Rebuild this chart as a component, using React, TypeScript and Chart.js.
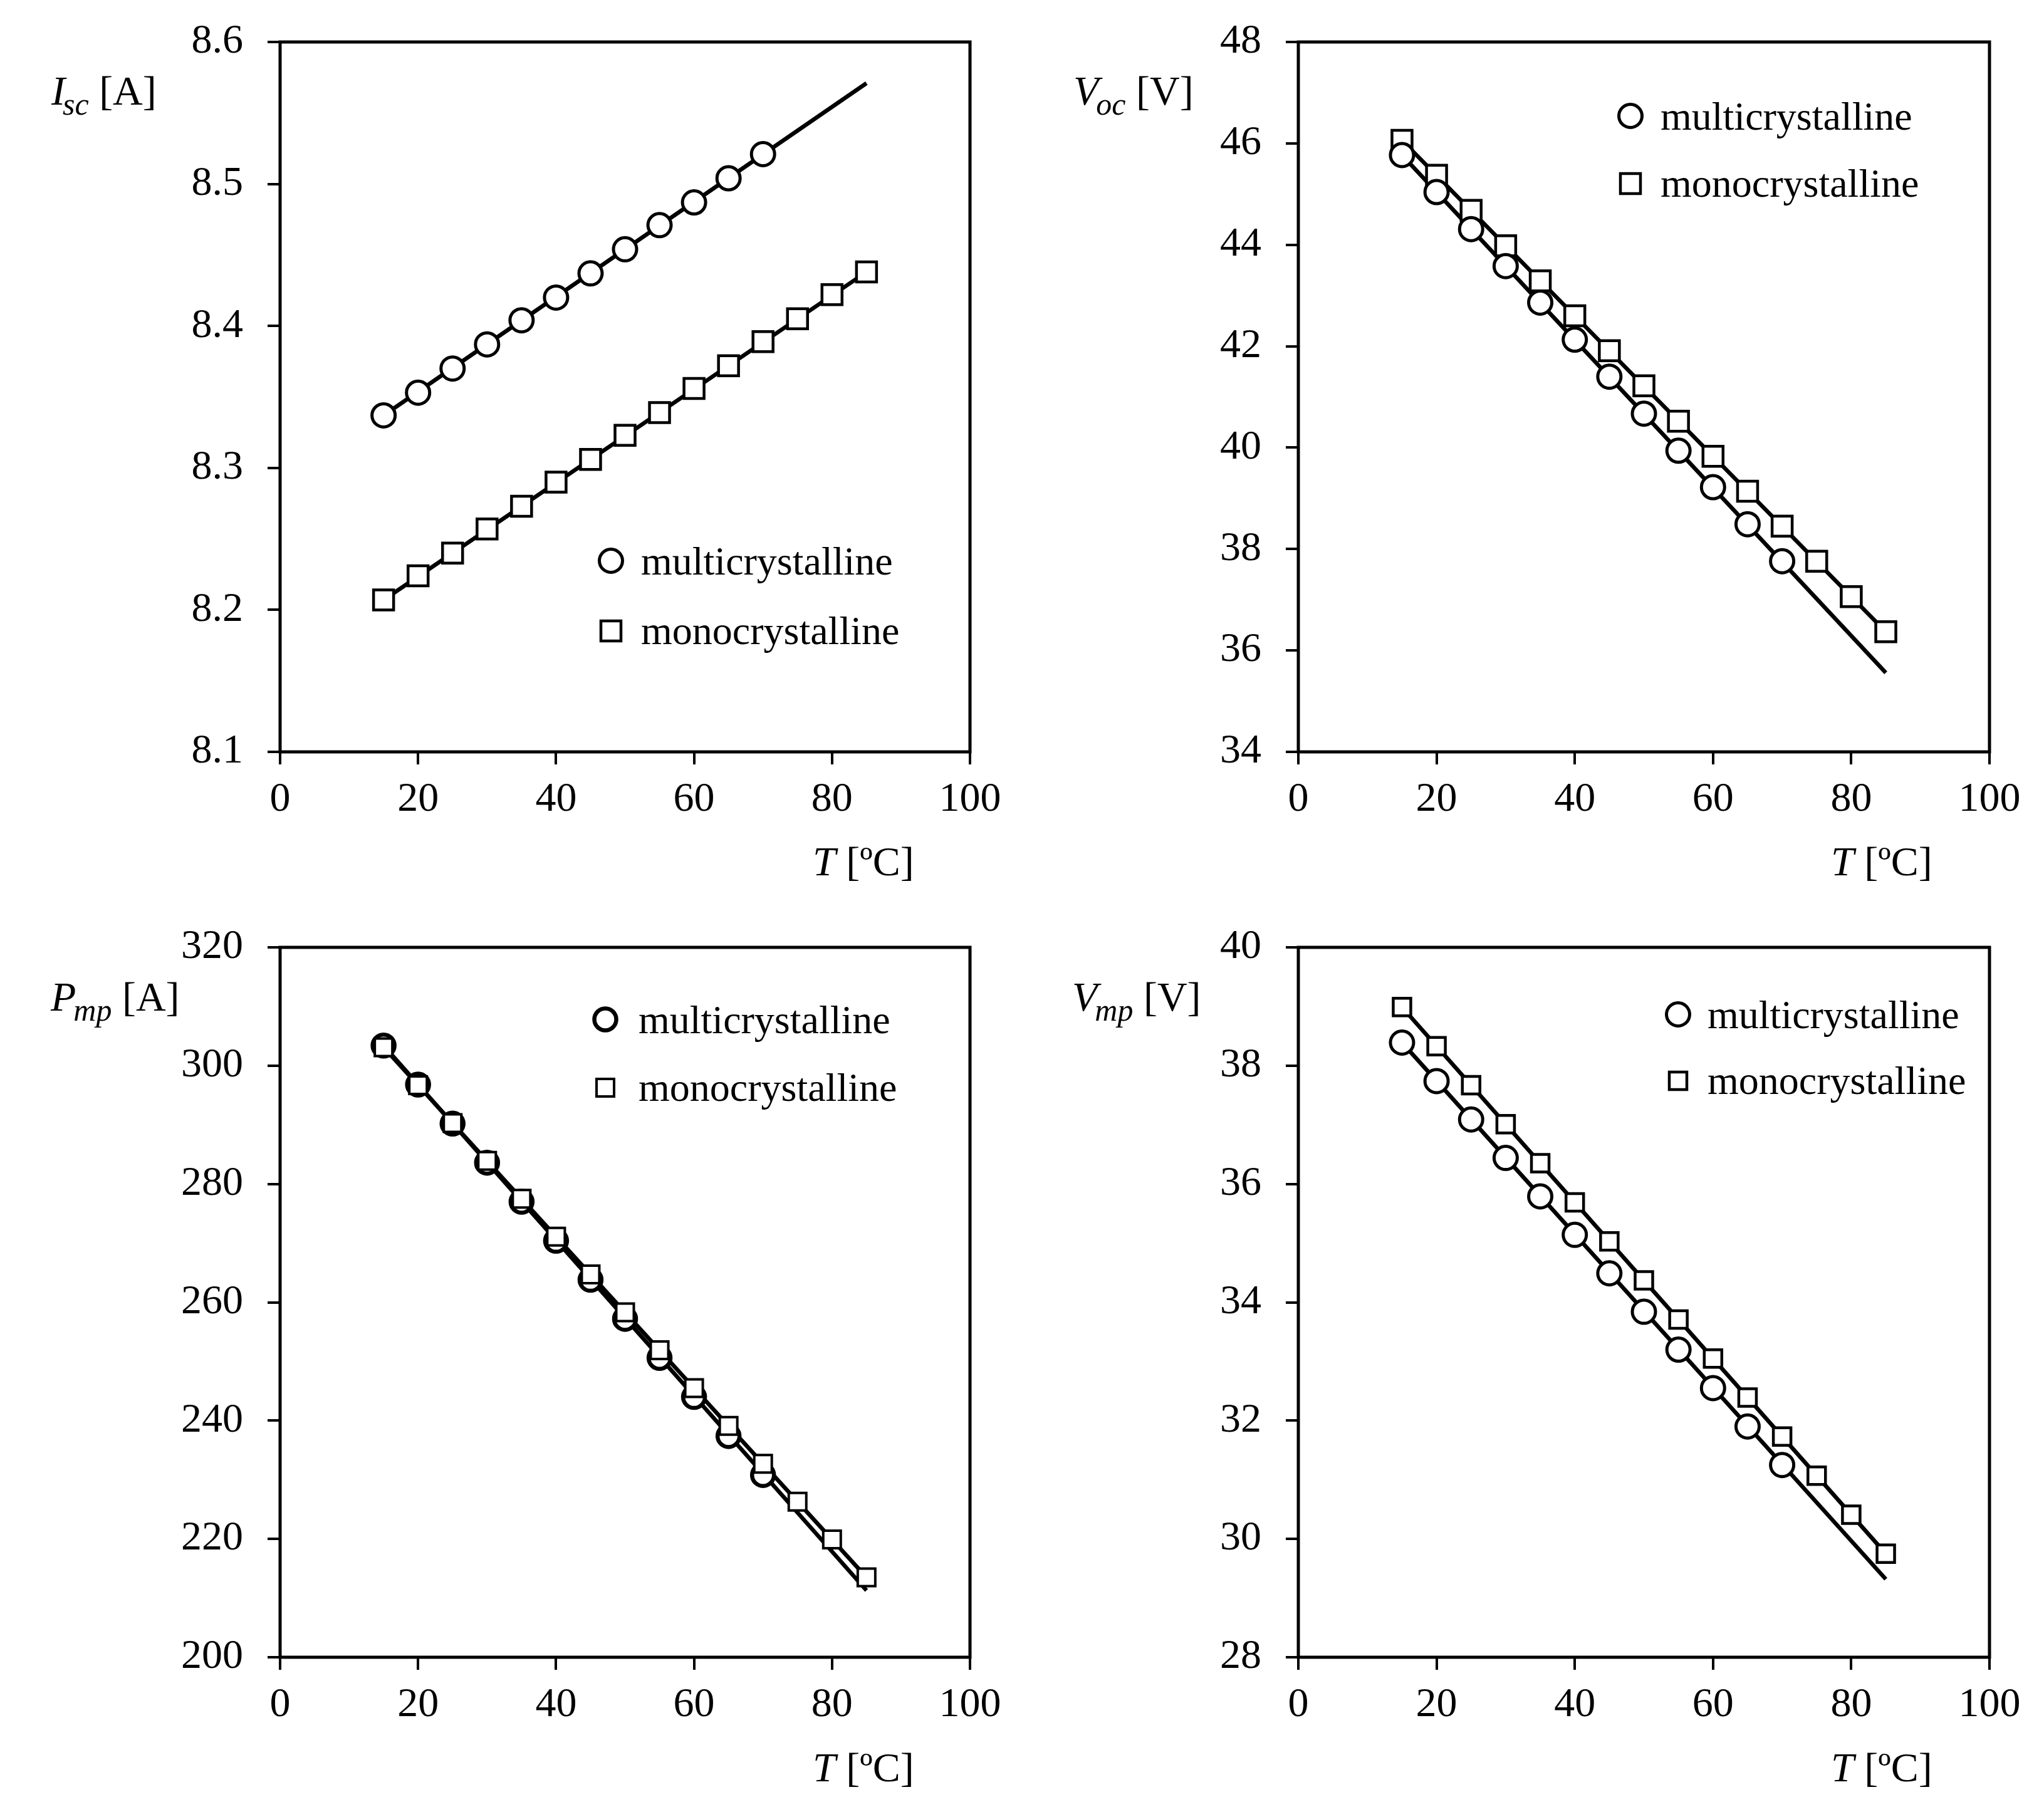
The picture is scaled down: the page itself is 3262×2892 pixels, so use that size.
import React, { useEffect, useRef } from "react";
import { Chart, registerables } from "chart.js";

Chart.register(...registerables);

const FONT = "'Liberation Serif', 'Times New Roman', serif";

// ---------- data ----------
const tempsMulti = [15, 20, 25, 30, 35, 40, 45, 50, 55, 60, 65, 70];
const tempsMono = [15, 20, 25, 30, 35, 40, 45, 50, 55, 60, 65, 70, 75, 80, 85];
const fitTemps = [15, 85];
const xTicks = [0, 20, 40, 60, 80, 100];
const legendLabels = ["multicrystalline", "monocrystalline"];

// Isc [A]
const iscTicks = [8.1, 8.2, 8.3, 8.4, 8.5, 8.6];
const iscMulti = [8.337, 8.353, 8.37, 8.387, 8.404, 8.42, 8.437, 8.454, 8.471, 8.487, 8.504, 8.521];
const iscMono = [8.207, 8.224, 8.24, 8.257, 8.273, 8.29, 8.306, 8.323, 8.339, 8.356, 8.372, 8.389, 8.405, 8.422, 8.438];
const iscMultiFit = [8.337, 8.571];
const iscMonoFit = [8.207, 8.438];

// Voc [V]
const vocTicks = [34, 36, 38, 40, 42, 44, 46, 48];
const vocMulti = [45.77, 45.04, 44.31, 43.58, 42.86, 42.13, 41.4, 40.67, 39.94, 39.22, 38.49, 37.76];
const vocMono = [46.06, 45.37, 44.68, 43.98, 43.29, 42.6, 41.91, 41.22, 40.52, 39.83, 39.14, 38.45, 37.76, 37.06, 36.37];
const vocMultiFit = [45.77, 35.56];
const vocMonoFit = [46.06, 36.37];

// Pmp
const pmpTicks = [200, 220, 240, 260, 280, 300, 320];
const pmpMulti = [303.4, 296.8, 290.2, 283.6, 277.0, 270.4, 263.8, 257.2, 250.6, 244.0, 237.4, 230.8];
const pmpMono = [303.1, 296.7, 290.3, 283.9, 277.5, 271.1, 264.7, 258.3, 251.9, 245.5, 239.1, 232.7, 226.3, 219.9, 213.5];
const pmpMultiFit = [303.4, 211.3];
const pmpMonoFit = [303.1, 213.5];

// Vmp [V]
const vmpTicks = [28, 30, 32, 34, 36, 38, 40];
const vmpMulti = [38.39, 37.74, 37.09, 36.44, 35.79, 35.14, 34.49, 33.84, 33.2, 32.55, 31.9, 31.25];
const vmpMono = [38.99, 38.33, 37.67, 37.01, 36.35, 35.69, 35.03, 34.37, 33.71, 33.05, 32.39, 31.73, 31.07, 30.41, 29.75];
const vmpMultiFit = [38.39, 29.32];
const vmpMonoFit = [38.99, 29.75];

// ---------- layout ----------
const W = 1631;
const H = 1446;
const FS = 64;
const TICK_FS = 66;

type Panel = {
  left: number; top: number; plotLeft: number; plotTop: number; plotRight: number; plotBottom: number;
  yTicks: number[]; decimals: number;
  multi: number[]; mono: number[]; multiFit: number[]; monoFit: number[];
  title: [string, string, string];
  titleX: number; tX: number;
  legX: number; legY1: number; legY2: number; legTextX: number;
  circR: number; circW: number; rectHalf: number; rectW: number;
  multiOnTop: boolean;
};

const panels: Panel[] = [
  {
    left: 0, top: 0, plotLeft: 447, plotTop: 67, plotRight: 1548, plotBottom: 1200,
    yTicks: iscTicks, decimals: 1, multi: iscMulti, mono: iscMono, multiFit: iscMultiFit, monoFit: iscMonoFit,
    title: ["I", "sc", " [A]"], titleX: 82, tX: 1297,
    legX: 975, legY1: 895, legY2: 1007, legTextX: 1023,
    circR: 18.5, circW: 5, rectHalf: 16, rectW: 4.5, multiOnTop: true,
  },
  {
    left: W, top: 0, plotLeft: 441, plotTop: 67, plotRight: 1544, plotBottom: 1200,
    yTicks: vocTicks, decimals: 0, multi: vocMulti, mono: vocMono, multiFit: vocMultiFit, monoFit: vocMonoFit,
    title: ["V", "oc", " [V]"], titleX: 82, tX: 1291,
    legX: 971, legY1: 185, legY2: 293, legTextX: 1019,
    circR: 18.5, circW: 5, rectHalf: 16, rectW: 4.5, multiOnTop: true,
  },
  {
    left: 0, top: H, plotLeft: 447, plotTop: 66, plotRight: 1548, plotBottom: 1199,
    yTicks: pmpTicks, decimals: 0, multi: pmpMulti, mono: pmpMono, multiFit: pmpMultiFit, monoFit: pmpMonoFit,
    title: ["P", "mp", " [A]"], titleX: 81, tX: 1297,
    legX: 966, legY1: 181, legY2: 290, legTextX: 1019,
    circR: 17.5, circW: 6.5, rectHalf: 14, rectW: 4, multiOnTop: false,
  },
  {
    left: W, top: H, plotLeft: 441, plotTop: 66, plotRight: 1544, plotBottom: 1199,
    yTicks: vmpTicks, decimals: 0, multi: vmpMulti, mono: vmpMono, multiFit: vmpMultiFit, monoFit: vmpMonoFit,
    title: ["V", "mp", " [V]"], titleX: 80, tX: 1291,
    legX: 1047, legY1: 173, legY2: 279, legTextX: 1094,
    circR: 18.5, circW: 5, rectHalf: 14, rectW: 4.5, multiOnTop: true,
  },
];

function drawCircle(ctx: CanvasRenderingContext2D, x: number, y: number, r: number, w: number) {
  ctx.beginPath();
  ctx.arc(x, y, r, 0, Math.PI * 2);
  ctx.fillStyle = "#fff";
  ctx.fill();
  ctx.lineWidth = w;
  ctx.strokeStyle = "#000";
  ctx.stroke();
}

function drawSquare(ctx: CanvasRenderingContext2D, x: number, y: number, h: number, w: number) {
  ctx.beginPath();
  ctx.rect(x - h, y - h, 2 * h, 2 * h);
  ctx.fillStyle = "#fff";
  ctx.fill();
  ctx.lineWidth = w;
  ctx.strokeStyle = "#000";
  ctx.stroke();
}

function makeDecor(p: Panel) {
  return {
    id: "decor",
    afterDraw(chart: any) {
      const ctx: CanvasRenderingContext2D = chart.ctx;
      const a = chart.chartArea;
      ctx.save();
      // frame
      ctx.strokeStyle = "#000";
      ctx.lineWidth = 5;
      ctx.strokeRect(a.left, a.top, a.right - a.left, a.bottom - a.top);

      ctx.fillStyle = "#000";
      ctx.textBaseline = "alphabetic";
      ctx.textAlign = "left";
      // y title
      let x = p.titleX;
      const base = 167;
      ctx.font = `italic ${FS + 2}px ${FONT}`;
      ctx.fillText(p.title[0], x, base);
      x += ctx.measureText(p.title[0]).width - 4;
      ctx.font = `italic ${Math.round(FS * 0.78)}px ${FONT}`;
      ctx.fillText(p.title[1], x, base + 16);
      x += ctx.measureText(p.title[1]).width;
      ctx.font = `${FS + 2}px ${FONT}`;
      ctx.fillText(p.title[2], x, base);

      // x title
      let tx = p.tX;
      const tb = 1397;
      ctx.font = `italic ${FS + 2}px ${FONT}`;
      ctx.fillText("T", tx, tb);
      tx += ctx.measureText("T").width;
      ctx.font = `${FS + 2}px ${FONT}`;
      ctx.fillText(" [\u00BAC]", tx, tb);

      // legend
      drawCircle(ctx, p.legX, p.legY1, p.circR, p.circW);
      drawSquare(ctx, p.legX, p.legY2, p.rectHalf, p.rectW);
      ctx.fillStyle = "#000";
      ctx.font = `${FS}px ${FONT}`;
      ctx.fillText(legendLabels[0], p.legTextX, p.legY1 + 22);
      ctx.fillText(legendLabels[1], p.legTextX, p.legY2 + 21);
      ctx.restore();
    },
  };
}

function PanelChart({ p }: { p: Panel }) {
  const ref = useRef<HTMLCanvasElement | null>(null);
  useEffect(() => {
    if (!ref.current) return;
    const toPts = (xs: number[], ys: number[]) => xs.map((t, i) => ({ x: t, y: ys[i] }));
    const multiMarkers = {
      label: legendLabels[0],
      data: toPts(tempsMulti, p.multi),
      showLine: false,
      pointStyle: "circle",
      pointRadius: p.circR,
      pointHoverRadius: p.circR,
      pointBorderWidth: p.circW,
      pointBackgroundColor: "#fff",
      pointBorderColor: "#000",
      order: p.multiOnTop ? 0 : 1,
    };
    const monoMarkers = {
      label: legendLabels[1],
      data: toPts(tempsMono, p.mono),
      showLine: false,
      pointStyle: "rect",
      pointRadius: p.rectHalf / Math.SQRT1_2,
      pointHoverRadius: p.rectHalf / Math.SQRT1_2,
      pointBorderWidth: p.rectW,
      pointBackgroundColor: "#fff",
      pointBorderColor: "#000",
      order: p.multiOnTop ? 1 : 0,
    };
    const fitLine = (ys: number[]) => ({
      label: "fit",
      data: toPts(fitTemps, ys),
      showLine: true,
      borderColor: "#000",
      borderWidth: 6.5,
      pointRadius: 0,
      pointHoverRadius: 0,
      order: 5,
    });
    const chart = new Chart(ref.current, {
      type: "scatter",
      data: {
        datasets: [multiMarkers, monoMarkers, fitLine(p.multiFit), fitLine(p.monoFit)] as any,
      },
      options: {
        animation: false,
        responsive: false,
        devicePixelRatio: 1,
        events: [],
        layout: { padding: { left: 0, top: p.plotTop, right: W - p.plotRight, bottom: 0 } },
        plugins: { legend: { display: false }, tooltip: { enabled: false }, title: { display: false } },
        scales: {
          x: {
            type: "linear",
            min: 0,
            max: 100,
            afterBuildTicks: (s: any) => { s.ticks = xTicks.map((v) => ({ value: v })); },
            afterFit: (s: any) => {
              s.height = H - p.plotBottom;
              s.paddingLeft = 0;
              s.paddingRight = 0;
            },
            ticks: {
              color: "#000",
              font: { family: FONT, size: TICK_FS },
              padding: 17,
              maxRotation: 0,
              callback: (v: any) => String(v),
            },
            grid: { drawOnChartArea: false, drawTicks: true, tickLength: 20, lineWidth: 4, color: "#000" },
            border: { display: false },
          },
          y: {
            type: "linear",
            min: p.yTicks[0],
            max: p.yTicks[p.yTicks.length - 1],
            afterBuildTicks: (s: any) => { s.ticks = p.yTicks.map((v) => ({ value: v })); },
            afterFit: (s: any) => {
              s.width = p.plotLeft;
              s.paddingTop = 0;
              s.paddingBottom = 0;
            },
            ticks: {
              color: "#000",
              font: { family: FONT, size: TICK_FS },
              padding: 39,
              callback: (v: any) => Number(v).toFixed(p.decimals),
            },
            grid: { drawOnChartArea: false, drawTicks: true, tickLength: 20, lineWidth: 4, color: "#000" },
            border: { display: false },
          },
        },
      },
      plugins: [makeDecor(p)],
    } as any);
    return () => chart.destroy();
  }, [p]);
  return (
    <canvas
      ref={ref}
      width={W}
      height={H}
      style={{ position: "absolute", left: p.left, top: p.top, width: W, height: H }}
    />
  );
}

export default function App() {
  return (
    <div style={{ position: "absolute", left: 0, top: 0, width: 3262, height: 2892, background: "#fff" }}>
      {panels.map((p, i) => (
        <PanelChart key={i} p={p} />
      ))}
    </div>
  );
}
